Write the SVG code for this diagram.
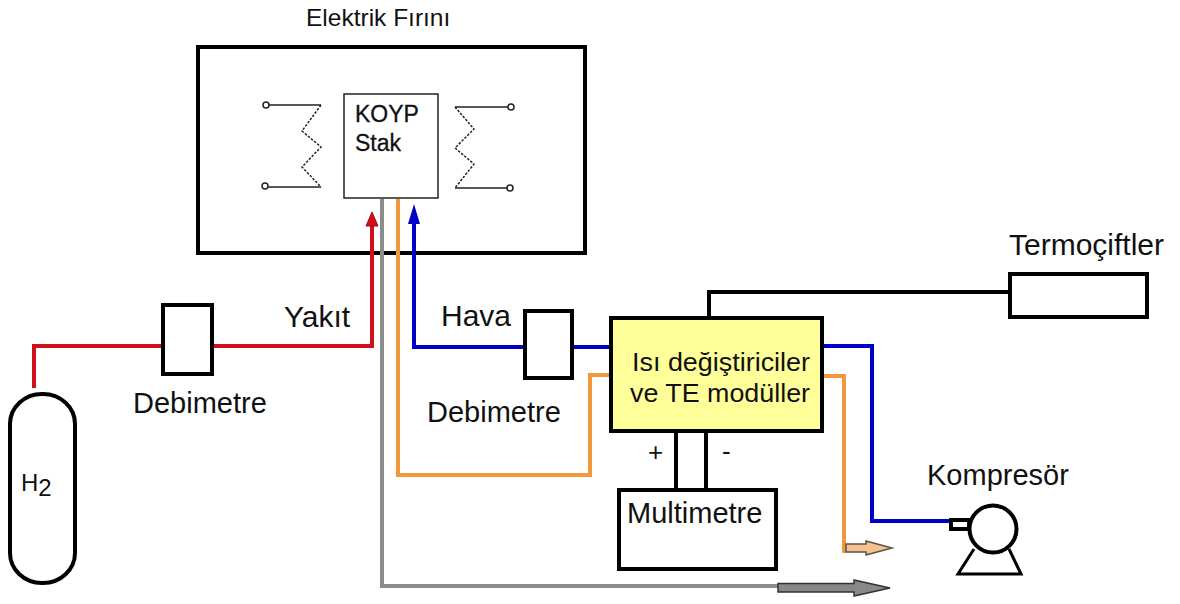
<svg xmlns="http://www.w3.org/2000/svg" width="1180" height="604" viewBox="0 0 1180 604">
<style>
text{font-family:"Liberation Sans",Arial,sans-serif;fill:#111}
.lbl{font-size:29px}
.box{fill:#fff;stroke:#000;stroke-width:4}
.thin{fill:none;stroke:#222;stroke-width:1.5}
.dash{fill:none;stroke:#222;stroke-width:1.5;stroke-dasharray:2.5 1.5}
.w{fill:none;stroke-width:4;stroke-linejoin:miter}
</style>
<rect width="1180" height="604" fill="#fff"/>
<g id="elektrik-firini">
<rect x="198" y="47" width="387" height="206" fill="#fff" stroke="#000" stroke-width="4"/>
<text x="306" y="26" font-size="24.500">Elektrik Fırını</text>
</g>
<g id="rezistans-sol">
<path class="thin" d="M268 105H321M268 187H321"/>
<path class="dash" d="M321 105L302 131L321 147L302 167L321 187"/>
<circle cx="266" cy="105" r="3" fill="#fff" stroke="#222" stroke-width="1.500"/>
<circle cx="265" cy="186" r="3" fill="#fff" stroke="#222" stroke-width="1.500"/>
</g>
<g id="rezistans-sag">
<path class="thin" d="M455 107H509M455 188H508"/>
<path class="dash" d="M455 107L474 129L455 148L474 164L455 188"/>
<circle cx="511" cy="107" r="3" fill="#fff" stroke="#222" stroke-width="1.500"/>
<circle cx="510" cy="188" r="3" fill="#fff" stroke="#222" stroke-width="1.500"/>
</g>
<g id="koyp-stak">
<rect x="344" y="94" width="94" height="104" fill="#fff" stroke="#222" stroke-width="1.500"/>
<text x="355" y="122" font-size="23" stroke="#111" stroke-width=".3">KOYP</text>
<text x="355" y="151" font-size="23" stroke="#111" stroke-width=".3">Stak</text>
</g>
<g id="connectors">
<path class="w" stroke="#d2101c" d="M34 388V346H372V222"/>
<path d="M372 212l-6 14h12z" fill="#d2101c" stroke="#a01015"/>
<path class="w" stroke="#0000c8" d="M414 222V347H525M572 347H610"/>
<path d="M414 204l-6 20h12z" fill="#0000c8"/>
<path class="w" stroke="#f0983c" d="M398 199V475H590V375H612"/>
<path class="w" stroke="#8c8c8c" d="M382 199V586H780"/>
<path d="M778 583.500h76v-3.500l36 8-36 8v-4h-76z" fill="#888" stroke="#333" stroke-width="1.500"/>
<path class="w" stroke="#0000c8" d="M822 346H872V521H950"/>
<path class="w" stroke="#f0983c" d="M822 376H844V553"/>
<path d="M846 544h20v-3l26 7-26 7v-3h-20z" fill="#f8c090" stroke="#554" stroke-width="1.500"/>
<path fill="none" stroke="#000" stroke-width="4" d="M709 318V292H1010M676 432V490M706 432V490"/>
</g>
<g id="h2">
<rect x="10" y="394" width="65" height="189" rx="32" ry="30" class="box"/>
<text x="21" y="491" font-size="24">H<tspan font-size="24" dy="5">2</tspan></text>
</g>
<g id="debimetre-1">
<rect x="163" y="305" width="49" height="69" class="box"/>
<text class="lbl" x="133" y="413">Debimetre</text>
</g>
<g id="debimetre-2">
<rect x="525" y="311" width="47" height="67" class="box"/>
<text class="lbl" x="427" y="422">Debimetre</text>
</g>
<text x="284" y="327" font-size="30">Yakıt</text>
<text x="441" y="326" font-size="30">Hava</text>
<g id="isi-degistiriciler">
<rect x="611" y="318" width="211" height="113" fill="#ffff99" stroke="#000" stroke-width="4"/>
<text x="632" y="371" font-size="25" textLength="178" lengthAdjust="spacingAndGlyphs">Isı değiştiriciler</text>
<text x="630" y="402" font-size="25" textLength="180" lengthAdjust="spacingAndGlyphs">ve TE modüller</text>
</g>
<text x="648" y="461" font-size="26">+</text>
<text x="722" y="460" font-size="26">-</text>
<g id="multimetre">
<rect x="619" y="490" width="157" height="79" class="box"/>
<text class="lbl" x="627" y="523">Multimetre</text>
</g>
<g id="termociftler">
<rect x="1010" y="274" width="137" height="43" class="box"/>
<text x="1009" y="255" font-size="30">Termoçiftler</text>
</g>
<g id="kompresor">
<text class="lbl" x="927" y="485">Kompresör</text>
<rect x="951" y="520" width="18" height="9" fill="#fff" stroke="#000" stroke-width="4"/>
<path d="M974 549L958 574H1021L1009 549" fill="#fff" stroke="#000" stroke-width="3"/>
<circle cx="993" cy="529" r="23.500" fill="#fff" stroke="#000" stroke-width="4"/>
</g>
</svg>
